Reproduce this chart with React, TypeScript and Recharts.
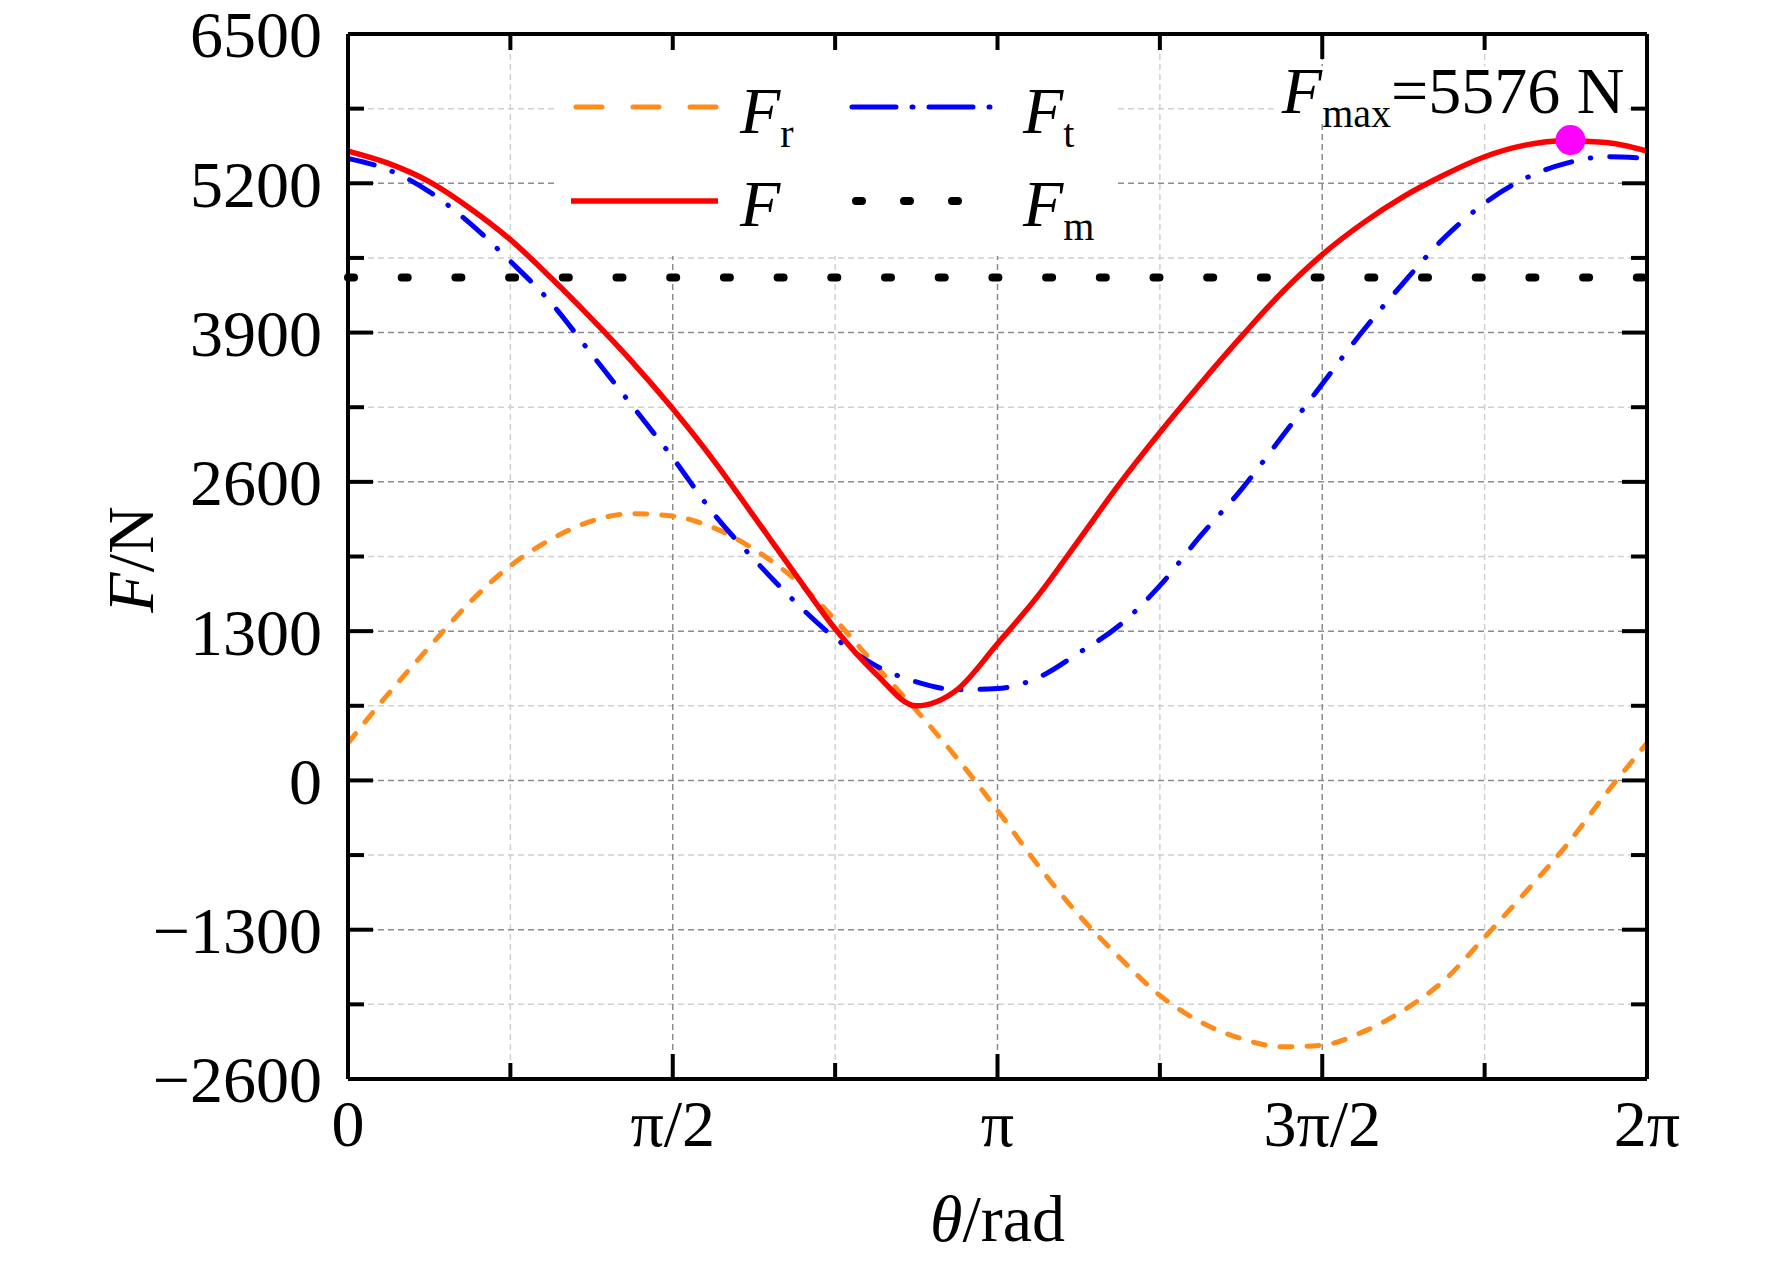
import {
  CartesianGrid,
  ComposedChart,
  Label,
  Legend,
  Line,
  ReferenceLine,
  Scatter,
  XAxis,
  YAxis,
} from 'recharts'

const PI = Math.PI
const FONT = '"Liberation Serif", "Times New Roman", serif'
const W = 1772
const H = 1266

// crank angle sampled every π/16 over one revolution (index k -> θ = kπ/16)
const thetaSteps = [
  0, 1, 2, 3, 4, 5, 6, 7, 8, 9, 10, 11, 12, 13, 14, 15, 16,
  17, 18, 19, 20, 21, 22, 23, 24, 25, 26, 27, 28, 29, 30, 31, 32,
]

// radial force F_r (N)
const radialForce = [
  325, 757, 1161, 1551, 1869, 2100, 2259, 2323, 2302, 2201, 2014, 1754, 1400, 1000, 610, 195, -260,
  -740, -1170, -1540, -1872, -2103, -2248, -2320, -2305, -2190, -2002, -1742, -1366, -976, -572, -110, 325,
]

// tangential force F_t (N)
const tangentialForce = [
  5417, 5316, 5128, 4853, 4521, 4160, 3712, 3264, 2810, 2326, 1927, 1560, 1240, 1000, 858, 790, 800,
  895, 1110, 1349, 1696, 2129, 2530, 2990, 3452, 3914, 4333, 4723, 5027, 5243, 5373, 5431, 5417,
]

// resultant force F (N)
const resultantForce = [
  5480, 5373, 5214, 4983, 4709, 4377, 4021, 3645, 3236, 2790, 2300, 1805, 1320, 930, 650, 789, 1190,
  1609, 2091, 2580, 3030, 3455, 3862, 4247, 4579, 4853, 5084, 5272, 5431, 5532, 5570, 5555, 5480,
]

const meanForce = 4380
const peakTheta = 5.913
const peakForce = 5576

const xMajorTicks = [0, PI / 2, PI, (3 * PI) / 2, 2 * PI]
const xTickLabels = ['0', 'π/2', 'π', '3π/2', '2π']
const xInnerMajor = [PI / 2, PI, (3 * PI) / 2]
const xMinorTicks = [PI / 4, (3 * PI) / 4, (5 * PI) / 4, (7 * PI) / 4]

const yMajorTicks = [-2600, -1300, 0, 1300, 2600, 3900, 5200, 6500]
const yTickLabels = ['−2600', '−1300', '0', '1300', '2600', '3900', '5200', '6500']
const yInnerMajor = [-1300, 0, 1300, 2600, 3900, 5200]
const yMinorTicks = [-1950, -650, 650, 1950, 3250, 4550, 5850]

const chartData = thetaSteps.map((k, i) => ({
  theta: (k * PI) / 16,
  fr: radialForce[i],
  ft: tangentialForce[i],
  f: resultantForce[i],
}))

const peakPoint = [{ theta: peakTheta, force: peakForce }]

function formatX(v: number) {
  return xTickLabels[Math.round(v / (PI / 2))] ?? ''
}

function formatY(v: number) {
  const i = yMajorTicks.indexOf(v)
  return i >= 0 ? yTickLabels[i] : ''
}

const tickFont = { fontSize: 66, fontFamily: FONT, fill: '#000' }
const frame = { stroke: '#000', strokeWidth: 4 }
const tickMark = { stroke: '#000', strokeWidth: 4 }

// inner tick axes draw only their tick marks
const NoLabel = () => <g />

function XTitle(props: any) {
  const vb = props.viewBox ?? { x: 348, y: 1079, width: 1299, height: 150 }
  return (
    <text x={vb.x + vb.width / 2} y={vb.y + 162} textAnchor="middle" fontFamily={FONT} fontSize={66} fill="#000">
      <tspan fontStyle="italic">θ</tspan>
      <tspan>/rad</tspan>
    </text>
  )
}

function YTitle(props: any) {
  const vb = props.viewBox ?? { x: 148, y: 34, width: 200, height: 1045 }
  const x = vb.x + 5
  const y = vb.y + vb.height / 2 + 3
  return (
    <text x={x} y={y} transform={`rotate(-90 ${x} ${y})`} textAnchor="middle" fontFamily={FONT} fontSize={66} fill="#000">
      <tspan fontStyle="italic">F</tspan>
      <tspan>/N</tspan>
    </text>
  )
}

function PeakMarker(props: any) {
  const { cx, cy } = props
  return (
    <g>
      <rect x={cx - 297} y={cy - 74} width={355} height={58} fill="#fff" />
      <text x={cx + 54} y={cy - 27} textAnchor="end" fontFamily={FONT} fontSize={66} fill="#000">
        <tspan fontStyle="italic">F</tspan>
        <tspan fontSize={40} dy={14}>max</tspan>
        <tspan dy={-14}>{`=${peakForce} N`}</tspan>
      </text>
      <circle cx={cx} cy={cy} r={15} fill="#ff00ff" />
    </g>
  )
}

function LegendBox() {
  const txt = { fontFamily: FONT, fontSize: 66, fill: '#000' }
  return (
    <svg width={562} height={206} style={{ display: 'block' }}>
      <rect width={562} height={206} fill="#fff" />
      <line x1={22} x2={162} y1={57} y2={57} stroke="#ff8c1a" strokeWidth={5} strokeDasharray="26 31" strokeLinecap="round" />
      <text x={186} y={83} {...txt}>
        <tspan fontStyle="italic">F</tspan>
        <tspan fontSize={40} dy={14}>r</tspan>
      </text>
      <line x1={298} x2={446} y1={57} y2={57} stroke="#0000ff" strokeWidth={5} strokeDasharray="44 16 1 16" strokeLinecap="round" />
      <text x={469} y={83} {...txt}>
        <tspan fontStyle="italic">F</tspan>
        <tspan fontSize={40} dy={14}>t</tspan>
      </text>
      <line x1={17} x2={164} y1={151} y2={151} stroke="#ff0000" strokeWidth={5.5} />
      <text x={186} y={176} {...txt}>
        <tspan fontStyle="italic">F</tspan>
      </text>
      <line x1={302} x2={446} y1={151} y2={151} stroke="#000" strokeWidth={8} strokeDasharray="6 42" strokeLinecap="round" />
      <text x={469} y={176} {...txt}>
        <tspan fontStyle="italic">F</tspan>
        <tspan fontSize={40} dy={14}>m</tspan>
      </text>
    </svg>
  )
}

export default function App() {
  return (
    <div style={{ position: 'absolute', left: 0, top: 0, width: W, height: H, background: '#fff' }}>
      <ComposedChart
        width={W}
        height={H}
        data={chartData}
        margin={{ top: 34, right: 125, bottom: 37, left: 148 }}
        style={{ fontFamily: FONT }}
      >
        <CartesianGrid
          xAxisId="x"
          yAxisId="y"
          horizontalValues={yMinorTicks}
          verticalValues={xMinorTicks}
          stroke="#d0d0d0"
          strokeWidth={1.5}
          strokeDasharray="6 4"
        />
        <CartesianGrid
          xAxisId="x"
          yAxisId="y"
          horizontalValues={yInnerMajor}
          verticalValues={xInnerMajor}
          stroke="#8c8c8c"
          strokeWidth={1.5}
          strokeDasharray="6 4"
        />

        <XAxis
          xAxisId="x"
          dataKey="theta"
          type="number"
          domain={[0, 2 * PI]}
          allowDataOverflow
          ticks={xMajorTicks}
          interval={0}
          tickFormatter={formatX}
          tick={tickFont}
          tickLine={false}
          tickSize={0}
          tickMargin={20}
          axisLine={frame}
          height={150}
        >
          <Label content={<XTitle />} />
        </XAxis>
        <XAxis xAxisId="xb1" dataKey="theta" type="number" domain={[0, 2 * PI]} allowDataOverflow ticks={xInnerMajor} interval={0}
          mirror orientation="bottom" height={1} tick={NoLabel} tickSize={25} tickLine={tickMark} axisLine={false} />
        <XAxis xAxisId="xb2" dataKey="theta" type="number" domain={[0, 2 * PI]} allowDataOverflow ticks={xMinorTicks} interval={0}
          mirror orientation="bottom" height={1} tick={NoLabel} tickSize={15} tickLine={tickMark} axisLine={false} />
        <XAxis xAxisId="xt1" dataKey="theta" type="number" domain={[0, 2 * PI]} allowDataOverflow ticks={xInnerMajor} interval={0}
          mirror orientation="top" height={1} tick={NoLabel} tickSize={25} tickLine={tickMark} axisLine={frame} />
        <XAxis xAxisId="xt2" dataKey="theta" type="number" domain={[0, 2 * PI]} allowDataOverflow ticks={xMinorTicks} interval={0}
          mirror orientation="top" height={1} tick={NoLabel} tickSize={15} tickLine={tickMark} axisLine={false} />

        <YAxis
          yAxisId="y"
          type="number"
          domain={[-2600, 6500]}
          allowDataOverflow
          ticks={yMajorTicks}
          interval={0}
          tickFormatter={formatY}
          tick={tickFont}
          tickLine={false}
          tickSize={0}
          tickMargin={26}
          axisLine={frame}
          width={200}
        >
          <Label content={<YTitle />} />
        </YAxis>
        <YAxis yAxisId="yl1" type="number" domain={[-2600, 6500]} allowDataOverflow ticks={yInnerMajor} interval={0}
          mirror orientation="left" width={1} tick={NoLabel} tickSize={25} tickLine={tickMark} axisLine={false} />
        <YAxis yAxisId="yl2" type="number" domain={[-2600, 6500]} allowDataOverflow ticks={yMinorTicks} interval={0}
          mirror orientation="left" width={1} tick={NoLabel} tickSize={15} tickLine={tickMark} axisLine={false} />
        <YAxis yAxisId="yr1" type="number" domain={[-2600, 6500]} allowDataOverflow ticks={yInnerMajor} interval={0}
          mirror orientation="right" width={1} tick={NoLabel} tickSize={25} tickLine={tickMark} axisLine={frame} />
        <YAxis yAxisId="yr2" type="number" domain={[-2600, 6500]} allowDataOverflow ticks={yMinorTicks} interval={0}
          mirror orientation="right" width={1} tick={NoLabel} tickSize={15} tickLine={tickMark} axisLine={false} />

        <ReferenceLine
          xAxisId="x"
          yAxisId="y"
          y={meanForce}
          stroke="#000"
          strokeWidth={8}
          strokeDasharray="6 47.7"
          strokeLinecap="round"
        />

        <Line
          xAxisId="x"
          yAxisId="y"
          type="monotone"
          dataKey="fr"
          stroke="#ff8c1a"
          strokeWidth={5}
          strokeDasharray="12 15"
          strokeLinecap="round"
          dot={false}
          activeDot={false}
          isAnimationActive={false}
        />
        <Line
          xAxisId="x"
          yAxisId="y"
          type="monotone"
          dataKey="ft"
          stroke="#0000ff"
          strokeWidth={5}
          strokeDasharray="27 19 0.5 19"
          strokeLinecap="round"
          dot={false}
          activeDot={false}
          isAnimationActive={false}
        />
        <Line
          xAxisId="x"
          yAxisId="y"
          type="monotone"
          dataKey="f"
          stroke="#ff0000"
          strokeWidth={5.5}
          dot={false}
          activeDot={false}
          isAnimationActive={false}
        />
        <Scatter
          xAxisId="x"
          yAxisId="y"
          data={peakPoint}
          dataKey="force"
          shape={PeakMarker}
          isAnimationActive={false}
        />

        <Legend
          content={<LegendBox />}
          layout="horizontal"
          align="center"
          verticalAlign="middle"
          wrapperStyle={{ left: 554, top: 50, width: 562, height: 206 }}
        />
      </ComposedChart>
    </div>
  )
}
